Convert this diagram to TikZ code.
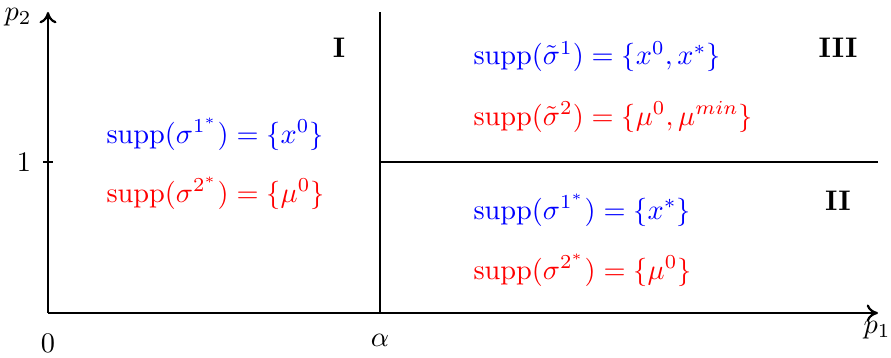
\documentclass[tikz,border=0pt]{standalone}
\usetikzlibrary{arrows.meta}
\begin{document}
\begin{tikzpicture}[x=0.0124cm,y=0.0124cm,
  axis/.style={line width=0.8pt,-{To[length=4pt,width=6pt]}},
  bline/.style={line width=0.8pt},
  lbl/.style={inner sep=0pt},
  bl/.style={text=blue,anchor=west,inner sep=0pt},
  rd/.style={text=red,anchor=west,inner sep=0pt}]
\useasboundingbox (0,0) rectangle (891,358);
\coordinate (O) at (48,45);
\coordinate (ytop) at (48,346);
\coordinate (xend) at (878,45);
\coordinate (abot) at (380,45);
\coordinate (atop) at (380,346);
\coordinate (hmid) at (380,196);
\coordinate (hend) at (878,196);
\draw[axis] (O) -- (ytop);
\draw[axis] (O) -- (xend);
\draw[bline] (abot) -- (atop);
\draw[bline] (hmid) -- (hend);
\draw[bline] (43,196) -- (53,196);
\node[lbl] (p2) at (18,341) {$p_2$};
\node[lbl] (p1) at (877,28) {$p_1$};
\node[lbl] (zero) at (48,15) {$0$};
\node[lbl] (alpha) at (380,18) {$\alpha$};
\node[lbl] (one) at (24,196) {$1$};
\node[lbl] (I) at (339,310) {\textbf{I}};
\node[lbl] (III) at (838,310) {\textbf{III}};
\node[lbl] (II) at (838,157) {\textbf{II}};
\node[bl] (a1) at (106,224) {$\mathrm{supp}(\sigma^{1^*})=\{x^0\}$};
\node[rd] (a2) at (106,165) {$\mathrm{supp}(\sigma^{2^*})=\{\mu^0\}$};
\node[bl] (b1) at (473,301) {$\mathrm{supp}(\tilde\sigma^{1})=\{x^0,x^*\}$};
\node[rd] (b2) at (473,241) {$\mathrm{supp}(\tilde\sigma^{2})=\{\mu^0,\mu^{min}\}$};
\node[bl] (c1) at (473,148) {$\mathrm{supp}(\sigma^{1^*})=\{x^*\}$};
\node[rd] (c2) at (473,88) {$\mathrm{supp}(\sigma^{2^*})=\{\mu^0\}$};
\end{tikzpicture}
\end{document}
